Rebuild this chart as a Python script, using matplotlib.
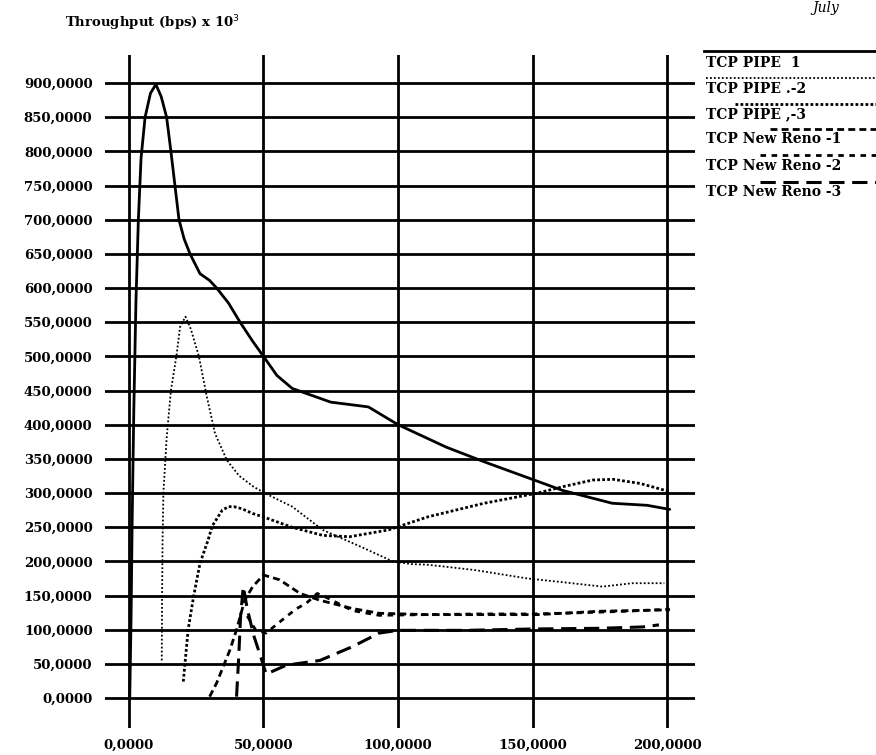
import matplotlib
matplotlib.use("Agg")
import matplotlib.pyplot as plt

# --- data (throughput in bps x 10^3 vs time) ---
pipe1_x = [0.3, 0.8, 1.2, 1.8, 2.6, 3.5, 4.5, 6.0, 8.0, 10.0, 12.0, 14.0, 15.6, 17.1,
           18.6, 20.5, 22.7, 26.4, 30.0, 32.6, 37.0, 41.3, 46.0, 50.0, 55.0, 60.7,
           75.0, 89.0, 100.0, 118.0, 132.5, 152.0, 161.0, 179.6, 192.6, 201.0]
pipe1_y = [0, 120, 260, 420, 580, 700, 790, 850, 885, 898, 880, 850, 800, 750,
           700, 672, 650, 621, 611, 600, 578, 550, 522, 500, 472, 453,
           433, 426, 400, 367, 345, 317, 304, 285, 282, 276]

pipe2_x = [12.2, 12.3, 12.5, 12.8, 14.0, 15.6, 17.7, 19.0, 21.0, 23.0, 26.0, 29.0,
           32.0, 36.4, 41.0, 46.4, 50.4, 60.7, 72.0, 86.4, 98.0, 105.0, 111.0,
           118.0, 129.0, 148.0, 160.0, 176.0, 187.0, 199.0]
pipe2_y = [55, 140, 230, 300, 380, 450, 502, 543, 558, 540, 500, 440,
           387, 348, 325, 309, 300, 280, 246, 221, 200, 196, 195,
           192, 187, 175, 170, 163, 168, 168]

pipe3_x = [20.2, 22.0, 24.0, 26.4, 29.4, 31.0, 34.7, 37.0, 39.0, 42.0, 46.0, 50.0,
           60.5, 72.0, 82.0, 96.5, 111.0, 132.0, 152.0, 161.0, 172.4, 180.0, 190.0, 201.0]
pipe3_y = [24, 100, 148, 197, 231, 252, 275, 280, 280, 277, 270, 265,
           250, 238, 236, 246, 265, 285, 300, 309, 319, 320, 314, 302]

reno1_x = [30.0, 32.6, 37.5, 40.0, 43.0, 46.0, 50.0, 56.0, 63.6, 71.0, 83.0, 93.0,
           111.0, 132.0, 152.0, 175.0, 201.0]
reno1_y = [2, 22, 70, 100, 143, 163, 180, 173, 153, 143, 131, 124,
           122, 122, 122, 127, 129]

reno2_x = [44.0, 47.0, 51.0, 55.0, 58.5, 62.0, 66.0, 70.0, 74.0, 78.0, 83.0, 93.0,
           110.0, 130.0, 150.0, 170.0, 185.0, 201.0]
reno2_y = [120, 100, 95, 108, 119, 130, 139, 153, 146, 138, 128, 121,
           122, 123, 123, 125, 127, 130]

reno3_x = [40.0, 40.8, 41.5, 42.5, 44.0, 46.5, 49.0, 51.0, 58.5, 71.0, 83.0, 93.0,
           100.0, 125.0, 150.0, 175.0, 191.0, 197.0]
reno3_y = [2, 60, 120, 163, 130, 90, 60, 35, 48, 55, 75, 95,
           99, 99, 101, 102, 104, 107]

series_names = ["TCP PIPE  1", "TCP PIPE .-2", "TCP PIPE ,-3",
                "TCP New Reno -1", "TCP New Reno -2", "TCP New Reno -3"]

x_ticks = [0, 50, 100, 150, 200]
y_ticks = list(range(0, 901, 50))

styles = [
    dict(ls="-", lw=2.0),
    dict(ls=(0, (1, 1.2)), lw=1.3),
    dict(ls=(0, (1, 0.8)), lw=2.0),
    dict(ls=(0, (2.5, 1.5)), lw=2.0),
    dict(ls=(0, (2, 2)), lw=2.0),
    dict(ls=(0, (5, 2.5)), lw=2.2),
]

W, H = 876, 755
fig = plt.figure(figsize=(W / 100, H / 100), dpi=100)
fig.patch.set_facecolor("white")

# main plot area in pixel terms: grid spans x 105..695, y 55..728
ax = fig.add_axes([105 / W, 1 - 728 / H, (695 - 105) / W, (728 - 55) / H])
ax.set_xlim(-8.9, 210.4)
ax.set_ylim(-43.9, 941)
for s in ax.spines.values():
    s.set_visible(False)

ax.set_xticks(x_ticks)
ax.set_yticks(y_ticks)
fmt = lambda v: f"{v:.4f}".replace(".", ",")
tick_font = dict(family="DejaVu Serif", weight="bold", size=9.5)
ax.set_xticklabels([fmt(v) for v in x_ticks], **tick_font)
ax.set_yticklabels([fmt(v) for v in y_ticks], **tick_font)
ax.tick_params(axis="both", length=0)
ax.tick_params(axis="y", pad=9)
ax.tick_params(axis="x", pad=8)
ax.set_axisbelow(True)
ax.grid(True, color="black", lw=2.0)

all_x = [pipe1_x, pipe2_x, pipe3_x, reno1_x, reno2_x, reno3_x]
all_y = [pipe1_y, pipe2_y, pipe3_y, reno1_y, reno2_y, reno3_y]
for xs, ys, st in zip(all_x, all_y, styles):
    ax.plot(xs, ys, color="black", solid_capstyle="round", **st)

# title above the axis
fig.text(65 / W, 1 - 23 / H, "Throughput (bps) x 10$^3$", family="DejaVu Serif",
         weight="bold", size=9.5, ha="left", va="center")

# date fragment at the top edge
fig.text(812 / W, 1 - 1 / H, "July", family="DejaVu Serif", style="italic",
         size=10, ha="left", va="top")

# hand-drawn style legend on the right
lax = fig.add_axes([700 / W, 1 - 205 / H, (W - 700) / W, (205 - 40) / H])
lax.set_xlim(700, W)
lax.set_ylim(205, 40)
lax.axis("off")
line_y = [51, 78, 104, 129, 155, 182]
line_x0 = [704, 706, 735, 770, 760, 760]
text_y = [63, 89, 114, 139, 166, 192]
for i, (name, st) in enumerate(zip(series_names, styles)):
    lax.plot([line_x0[i], W], [line_y[i], line_y[i]], color="black", **st)
    lax.text(706, text_y[i], name, family="DejaVu Serif", weight="bold",
             size=10, ha="left", va="center")

fig.savefig("out.png", dpi=100, facecolor="white")
